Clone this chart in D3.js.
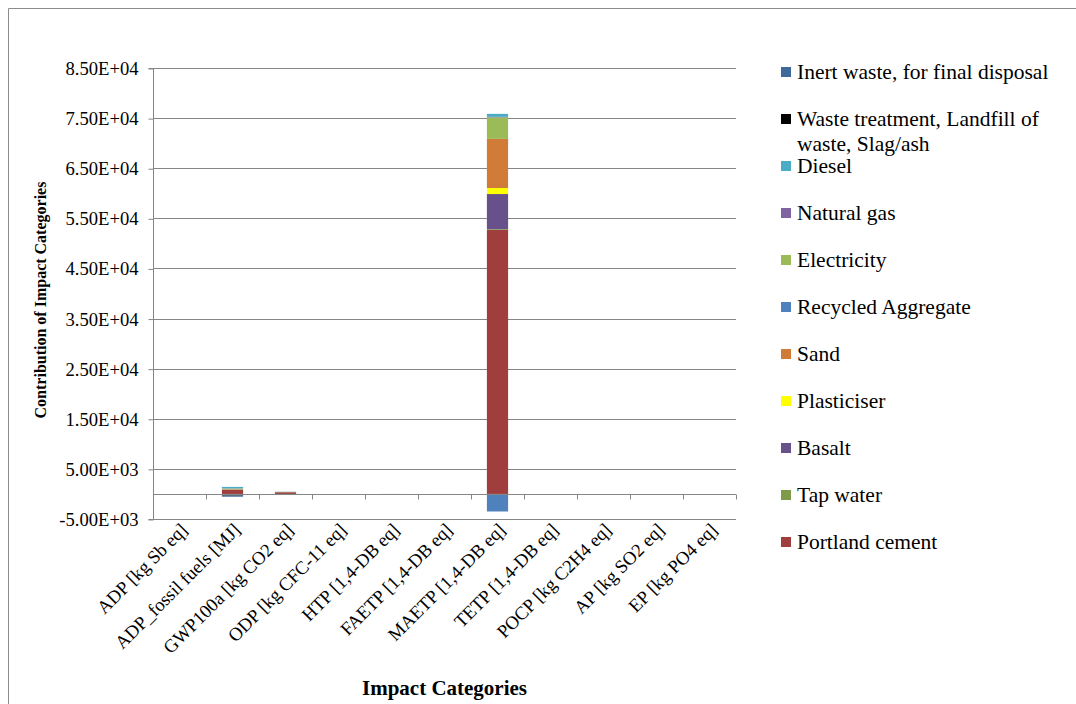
<!DOCTYPE html>
<html>
<head>
<meta charset="utf-8">
<script src="https://cdn.jsdelivr.net/npm/d3@7/dist/d3.min.js"></script>
<style>
  html, body { margin: 0; padding: 0; background: #fff; }
  svg { display: block; }
  svg text { font-family: "Liberation Serif", "Times New Roman", serif; }
</style>
</head>
<body>
<svg id="chart" width="1076" height="704"></svg>
<script>
// Impact categories on the x axis
const categories = [
  "ADP [kg Sb eq]",
  "ADP_fossil fuels [MJ]",
  "GWP100a [kg CO2 eq]",
  "ODP [kg CFC-11 eq]",
  "HTP [1,4-DB eq]",
  "FAETP [1,4-DB eq]",
  "MAETP [1,4-DB eq]",
  "TETP [1,4-DB eq]",
  "POCP [kg C2H4 eq]",
  "AP [kg SO2 eq]",
  "EP [kg PO4 eq]"
];

// Contributing processes, in stacking order (first = bottom of the stack)
const seriesNames = [
  "Portland cement",
  "Tap water",
  "Basalt",
  "Plasticiser",
  "Sand",
  "Recycled Aggregate",
  "Electricity",
  "Natural gas",
  "Diesel",
  "Waste treatment, Landfill of waste, Slag/ash",
  "Inert waste, for final disposal"
];

// Values per series, one per impact category
const portlandCement   = [0.01, 800, 330, 0.00002, 8, 2, 52700, 0.5, 0.03, 0.8, 0.1];
const tapWater         = [0, 10, 2, 0, 0.2, 0.1, 150, 0, 0, 0.01, 0.005];
const basalt           = [0.001, 60, 25, 0.000002, 1, 0.4, 7000, 0.1, 0.004, 0.08, 0.02];
const plasticiser      = [0.0005, 20, 5, 0.000001, 0.5, 0.2, 1200, 0.05, 0.002, 0.03, 0.01];
const sand             = [0.002, 80, 10, 0.000003, 1.5, 0.6, 9800, 0.2, 0.005, 0.1, 0.03];
const recycledAggregate = [-0.001, -250, -20, -0.000002, -2, -0.5, -3500, -0.2, -0.005, -0.1, -0.03];
const electricity      = [0.0003, 120, 20, 0.000001, 1.2, 0.3, 4300, 0.1, 0.003, 0.1, 0.02];
const naturalGas       = [0.0001, 20, 15, 0.0000005, 0.1, 0.02, 100, 0.01, 0.0005, 0.01, 0.002];
const diesel           = [0.0002, 300, 25, 0.000003, 0.8, 0.3, 600, 0.05, 0.004, 0.1, 0.02];
const wasteTreatment   = [0, -100, 2, 0, 0.1, 0.02, 0, 0, 0.0001, 0.005, 0.001];
const inertWaste       = [0, -200, 3, 0, 0.1, 0.02, 0, 0, 0.0002, 0.005, 0.001];

const seriesValues = [
  portlandCement, tapWater, basalt, plasticiser, sand, recycledAggregate,
  electricity, naturalGas, diesel, wasteTreatment, inertWaste
];

// Fill colour per series
const seriesColors = [
  "#9f3e3c", "#7f9a48", "#68518a", "#ffff00", "#d07b38", "#4f81bd",
  "#9bbb59", "#8064a2", "#4bacc6", "#000000", "#3f6999"
];

// Y tick values and their labels
const yTicks = [85000, 75000, 65000, 55000, 45000, 35000, 25000, 15000, 5000, -5000];
const yTickLabels = ["8.50E+04", "7.50E+04", "6.50E+04", "5.50E+04", "4.50E+04",
                     "3.50E+04", "2.50E+04", "1.50E+04", "5.00E+03", "-5.00E+03"];

const FONT = "Liberation Serif, Times New Roman, serif";
const svg = d3.select("#chart");
const margin = { left: 153, right: 340, top: 68, bottom: 185 };
const W = 1076, H = 704;
const plotLeft = margin.left, plotRight = W - margin.right;
const plotTop = margin.top, plotBottom = H - margin.bottom;

const gridColor = "#868686";

// Outer frame (top and left edges visible)
svg.append("path")
  .attr("d", `M8.5,${H} L8.5,8.5 L${W},8.5`)
  .attr("fill", "none").attr("stroke", "#8c8c8c").attr("stroke-width", 1);

const x = d3.scaleBand().domain(categories).range([plotLeft, plotRight]).paddingInner(0).paddingOuter(0);
const y = d3.scaleLinear().domain([-5000, 85000]).range([plotBottom, plotTop]);

// Horizontal gridlines at each labelled value
svg.append("g").selectAll("line").data(yTicks).join("line")
  .attr("x1", plotLeft).attr("x2", plotRight)
  .attr("y1", d => Math.round(y(d)) + 0.5).attr("y2", d => Math.round(y(d)) + 0.5)
  .attr("stroke", gridColor).attr("stroke-width", 1);

// Y axis with scientific-notation labels
const yAxis = d3.axisLeft(y)
  .tickValues(yTicks)
  .tickFormat((d, i) => yTickLabels[i])
  .tickSize(5).tickPadding(10);
const gy = svg.append("g")
  .attr("transform", `translate(${plotLeft + 0.5},0.5)`)
  .call(yAxis)
  .attr("font-family", FONT);
gy.select(".domain").attr("stroke", gridColor).attr("d", `M-5,${Math.round(y(85000))}H0V${Math.round(y(-5000))}H-5`);
gy.selectAll(".tick line").attr("stroke", gridColor);
gy.selectAll(".tick text")
  .attr("fill", "#000").attr("font-size", "18.6px")
  .attr("font-family", FONT);

// Stacked bars (positive and negative parts stacked separately)
const rows = categories.map((c, ci) => {
  const r = { category: c };
  seriesNames.forEach((s, si) => { r[s] = seriesValues[si][ci]; });
  return r;
});
const stack = d3.stack().keys(seriesNames).offset(d3.stackOffsetDiverging);
const layers = stack(rows);
const barWidth = x.bandwidth() * 0.4;

svg.append("g").selectAll("g").data(layers).join("g")
  .attr("fill", (d, i) => seriesColors[i])
  .selectAll("rect").data(d => d).join("rect")
  .attr("x", d => x(d.data.category) + (x.bandwidth() - barWidth) / 2)
  .attr("width", barWidth)
  .attr("y", d => y(Math.max(d[0], d[1])))
  .attr("height", d => Math.abs(y(d[0]) - y(d[1])));

// Category axis running through zero
const xAxis = d3.axisBottom(x).tickSize(0).tickFormat("");
const zeroY = Math.round(y(0)) + 0.5;
const gx = svg.append("g").attr("transform", `translate(0,${zeroY})`).call(xAxis);
gx.select(".domain").attr("stroke", gridColor).attr("d", `M${plotLeft},0H${plotRight}`);
// Tick marks on category boundaries
gx.selectAll(".boundary").data(d3.range(categories.length + 1)).join("line")
  .attr("class", "boundary")
  .attr("x1", i => Math.round(plotLeft + i * x.step()) + 0.5)
  .attr("x2", i => Math.round(plotLeft + i * x.step()) + 0.5)
  .attr("y1", 0).attr("y2", 5)
  .attr("stroke", gridColor);

// Rotated category labels below the plot
svg.append("g").selectAll("text").data(categories).join("text")
  .attr("transform", d => `translate(${x(d) + x.bandwidth() / 2 + 9},${plotBottom + 12}) rotate(-45)`)
  .attr("text-anchor", "end")
  .attr("font-family", FONT)
  .attr("font-size", "18.6px")
  .attr("fill", "#000")
  .text(d => d);

// Axis titles
svg.append("text")
  .attr("x", (plotLeft + plotRight) / 2).attr("y", 695)
  .attr("text-anchor", "middle")
  .attr("font-family", FONT)
  .attr("font-weight", "bold").attr("font-size", "21px")
  .text("Impact Categories");

svg.append("text")
  .attr("transform", `translate(46,300) rotate(-90)`)
  .attr("text-anchor", "middle")
  .attr("font-family", FONT)
  .attr("font-weight", "bold").attr("font-size", "16px")
  .text("Contribution of Impact Categories");

// Legend, listed from the top of the stack downwards
const legendOrder = seriesNames.map((s, i) => i).reverse();
const legendLines = {
  "Waste treatment, Landfill of waste, Slag/ash": ["Waste treatment, Landfill of", "waste, Slag/ash"]
};
const legend = svg.append("g");
legendOrder.forEach((si, k) => {
  const cy = 72 + k * 47;
  const g = legend.append("g");
  g.append("rect")
    .attr("x", 781).attr("y", cy - 5).attr("width", 10).attr("height", 10)
    .attr("fill", seriesColors[si]);
  const lines = legendLines[seriesNames[si]] || [seriesNames[si]];
  lines.forEach((ln, li) => {
    g.append("text")
      .attr("x", 797).attr("y", cy + 7 + li * 25)
      .attr("font-family", FONT)
      .attr("font-size", "21.5px").attr("fill", "#000")
      .text(ln);
  });
});
</script>
</body>
</html>
